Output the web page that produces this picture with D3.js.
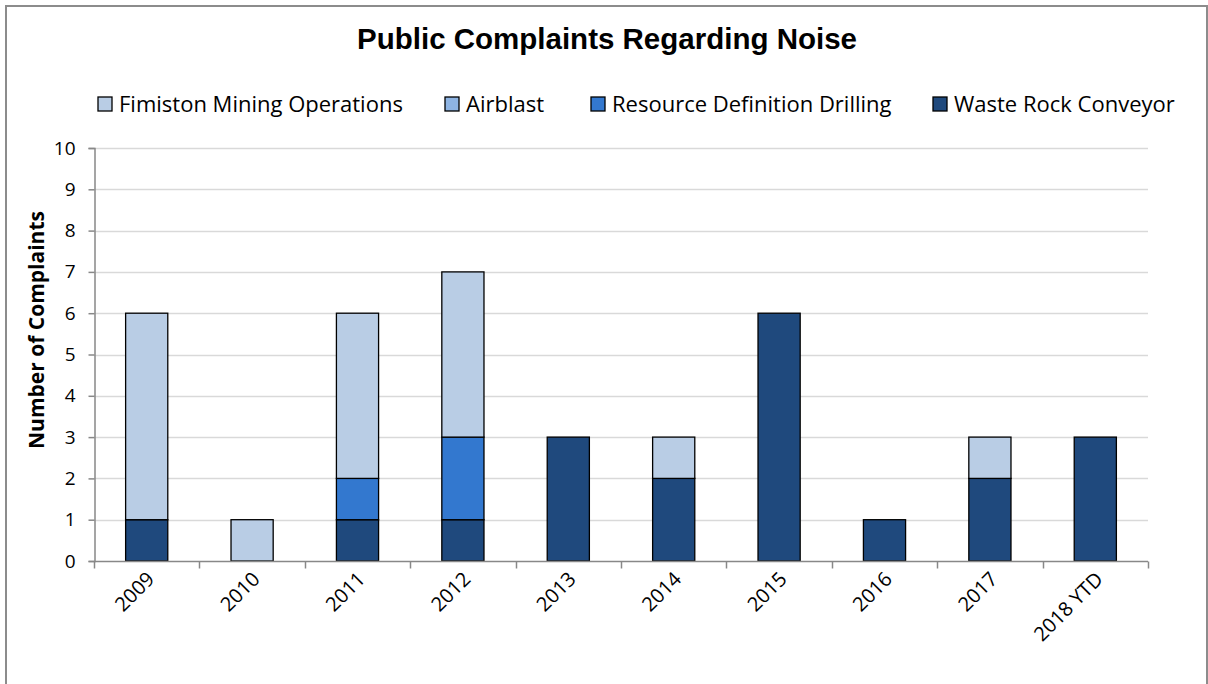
<!DOCTYPE html>
<html>
<head>
<meta charset="utf-8">
<script src="https://cdn.jsdelivr.net/npm/d3@7"></script>
<style>
  body { margin: 0; background: #fff; }
  svg text { fill: #000; }
</style>
</head>
<body>
<div id="chart"></div>
<script>
// categories and series
const years = ["2009", "2010", "2011", "2012", "2013", "2014", "2015", "2016", "2017", "2018 YTD"];
const wasteRock = [1, 0, 1, 1, 3, 2, 6, 1, 2, 3];
const resourceDrilling = [0, 0, 1, 2, 0, 0, 0, 0, 0, 0];
const airblast = [0, 0, 0, 0, 0, 0, 0, 0, 0, 0];
const fimiston = [5, 1, 4, 4, 0, 1, 0, 0, 1, 0];
const yTicks = [0, 1, 2, 3, 4, 5, 6, 7, 8, 9, 10];

// stack order bottom -> top
const seriesNames = ["Waste Rock Conveyor", "Resource Definition Drilling", "Airblast", "Fimiston Mining Operations"];
const seriesValues = [wasteRock, resourceDrilling, airblast, fimiston];
const colors = ["#1F497D", "#3378CF", "#8EB4E3", "#B9CDE5"];

const width = 1208, height = 684;
const margin = { left: 94, right: 60, top: 148, bottom: 123 };

const svg = d3.select("#chart").append("svg")
    .attr("width", width)
    .attr("height", height);

// outer border (bottom edge runs off the picture)
svg.append("rect")
    .attr("x", 6).attr("y", 6)
    .attr("width", 1201).attr("height", 700)
    .attr("fill", "#fff")
    .attr("stroke", "#8c8c8c")
    .attr("stroke-width", 2);

const x = d3.scaleBand()
    .domain(years)
    .range([margin.left, width - margin.right])
    .paddingInner(0.6)
    .paddingOuter(0.3);

const y = d3.scaleLinear()
    .domain([0, 10])
    .range([height - margin.bottom, margin.top]);

// gridlines
svg.append("g")
    .selectAll("line")
    .data(yTicks.slice(1))
    .join("line")
    .attr("x1", margin.left).attr("x2", width - margin.right)
    .attr("y1", d => Math.round(y(d)) + 0.5).attr("y2", d => Math.round(y(d)) + 0.5)
    .attr("stroke", "#d9d9d9")
    .attr("stroke-width", 1.5);

// build stacked table
const table = years.map((yr, i) => {
    const row = { year: yr };
    seriesNames.forEach((s, k) => row[s] = seriesValues[k][i]);
    return row;
});
const stacked = d3.stack().keys(seriesNames)(table);

svg.append("g")
    .selectAll("g")
    .data(stacked)
    .join("g")
    .attr("fill", (d, i) => colors[i])
    .selectAll("rect")
    .data(d => d.filter(p => p[1] - p[0] > 0))
    .join("rect")
    .attr("x", d => x(d.data.year))
    .attr("y", d => y(d[1]))
    .attr("width", x.bandwidth())
    .attr("height", d => y(d[0]) - y(d[1]))
    .attr("stroke", "#000")
    .attr("stroke-width", 1.3);

// y axis
const yAxis = svg.append("g")
    .attr("transform", `translate(${margin.left + 0.5},0)`)
    .call(d3.axisLeft(y).tickValues(yTicks).tickSize(6).tickPadding(13));
yAxis.selectAll("path, line").attr("stroke", "#888").attr("stroke-width", 1.5);
yAxis.selectAll("text")
    .attr("font-family", "Open Sans, sans-serif")
    .attr("font-size", "19px")
    .attr("fill", "#000");

// x axis: baseline with ticks on category boundaries
const xAxisG = svg.append("g");
const y0 = Math.round(y(0)) + 0.5;
xAxisG.append("line")
    .attr("x1", margin.left).attr("x2", width - margin.right)
    .attr("y1", y0).attr("y2", y0)
    .attr("stroke", "#888").attr("stroke-width", 1.5);
const boundaries = d3.range(years.length + 1).map(i => margin.left + i * (width - margin.right - margin.left) / years.length);
xAxisG.selectAll("line.tick")
    .data(boundaries)
    .join("line")
    .attr("class", "tick")
    .attr("x1", d => Math.round(d) + 0.5).attr("x2", d => Math.round(d) + 0.5)
    .attr("y1", y0).attr("y2", y0 + 7)
    .attr("stroke", "#888").attr("stroke-width", 1.5);

xAxisG.selectAll("text")
    .data(years)
    .join("text")
    .attr("transform", d => `translate(${x(d) + x.bandwidth() / 2 - 1},${y0 + 9}) rotate(-45)`)
    .attr("text-anchor", "end")
    .attr("dy", "0.7em")
    .attr("font-family", "Open Sans, sans-serif")
    .attr("font-size", "20px")
    .text(d => d);

// y axis title
svg.append("text")
    .attr("transform", `translate(44,330) rotate(-90)`)
    .attr("text-anchor", "middle")
    .attr("font-family", "Open Sans, sans-serif")
    .attr("font-weight", "bold")
    .attr("font-size", "21px")
    .text("Number of Complaints");

// title
svg.append("text")
    .attr("x", 607)
    .attr("y", 49)
    .attr("text-anchor", "middle")
    .attr("font-family", "Liberation Sans, Arial, sans-serif")
    .attr("font-weight", "bold")
    .attr("font-size", "29.5px")
    .text("Public Complaints Regarding Noise");

// legend
const legendOrder = [3, 2, 1, 0];
const legendX = [98, 445, 591, 933];
const legend = svg.append("g")
    .selectAll("g")
    .data(legendOrder)
    .join("g")
    .attr("transform", (d, i) => `translate(${legendX[i]},97)`);
legend.append("rect")
    .attr("width", 14).attr("height", 14)
    .attr("fill", d => colors[d])
    .attr("stroke", "#000")
    .attr("stroke-width", 1.3);
legend.append("text")
    .attr("x", 21)
    .attr("y", 7)
    .attr("dy", "0.36em")
    .attr("font-family", "Open Sans, sans-serif")
    .attr("font-size", "22px")
    .text(d => seriesNames[d]);
</script>
</body>
</html>
